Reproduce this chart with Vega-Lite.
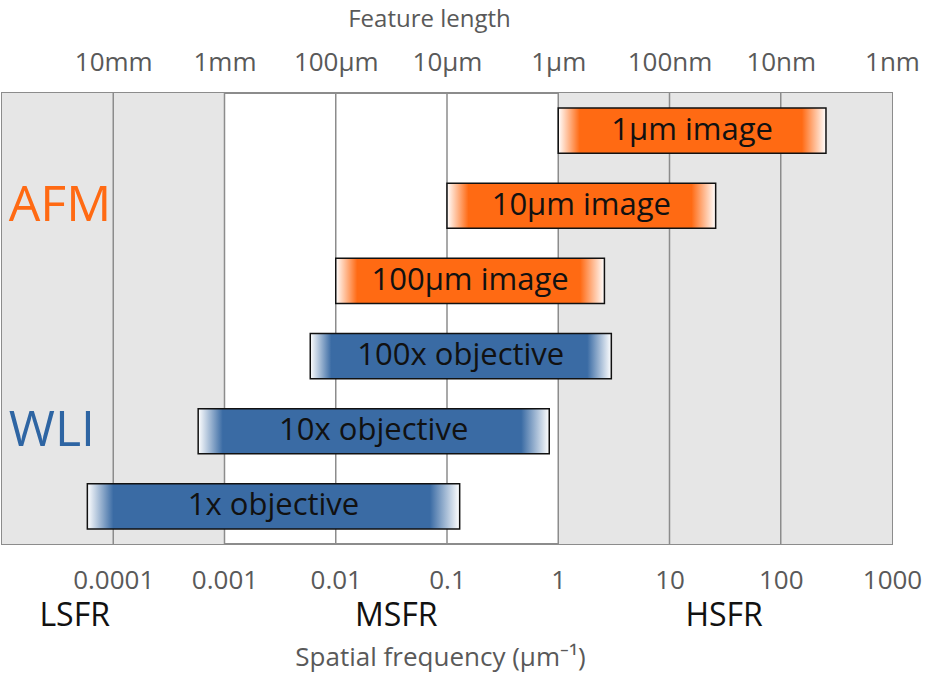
{
  "$schema": "https://vega.github.io/schema/vega-lite/v6.json",
  "width": 890,
  "height": 451,
  "autosize": "none",
  "padding": {"left": 2, "top": 93, "right": 34, "bottom": 131},
  "background": "white",
  "config": {
    "font": "Open Sans",
    "view": {"stroke": "#8c8c8c", "strokeWidth": 2}
  },
  "datasets": {
    "bg": [{"lo": 0.00001, "hi": 0.001}, {"lo": 1, "hi": 1000}],
    "grid": [{"f": 0.0001}, {"f": 0.001}, {"f": 0.01}, {"f": 0.1}, {"f": 1}, {"f": 10}, {"f": 100}],
    "bars": [
      {"label": "1µm image", "group": "AFM", "lo": 1, "hi": 255},
      {"label": "10µm image", "group": "AFM", "lo": 0.1, "hi": 26},
      {"label": "100µm image", "group": "AFM", "lo": 0.01, "hi": 2.6},
      {"label": "100x objective", "group": "WLI", "lo": 0.0059, "hi": 3.0},
      {"label": "10x objective", "group": "WLI", "lo": 0.00058, "hi": 0.83},
      {"label": "1x objective", "group": "WLI", "lo": 0.0000585, "hi": 0.13}
    ],
    "groups": [
      {"name": "AFM", "row": "10µm image", "pos": 0.0000115},
      {"name": "WLI", "row": "10x objective", "pos": 0.0000115}
    ],
    "ranges": [
      {"name": "LSFR", "pos": 0.000045},
      {"name": "MSFR", "pos": 0.035},
      {"name": "HSFR", "pos": 31}
    ]
  },
  "resolve": {"axis": {"x": "independent"}},
  "layer": [
    {
      "data": {"name": "bg"},
      "mark": {"type": "rect", "fill": "#e6e6e6"},
      "encoding": {
        "x": {"field": "lo", "type": "quantitative", "scale": {"type": "log", "domain": [0.00001, 1000], "nice": false},
          "axis": {
            "orient": "bottom",
            "values": [0.0001, 0.001, 0.01, 0.1, 1, 10, 100, 1000],
            "format": "~g",
            "grid": false, "ticks": false, "domain": false,
            "labelFontSize": 26, "labelColor": "#595959", "labelPadding": 23,
            "labelFlush": false, "labelOverlap": false, "labelBound": false,
            "title": "Spatial frequency (µm⁻¹)", "titleFontSize": 26, "titleFontWeight": "normal",
            "titleColor": "#595959", "titlePadding": 51, "titleX": 438
          }},
        "x2": {"field": "hi"}
      }
    },
    {
      "data": {"name": "grid"},
      "mark": {"type": "rule", "stroke": "#8c8c8c", "strokeWidth": 1.5},
      "encoding": {
        "x": {
          "field": "f", "type": "quantitative",
          "axis": {
            "orient": "top",
            "values": [0.0001, 0.001, 0.01, 0.1, 1, 10, 100, 1000],
            "labelExpr": "datum.value < 0.0005 ? '10mm' : datum.value < 0.005 ? '1mm' : datum.value < 0.05 ? '100µm' : datum.value < 0.5 ? '10µm' : datum.value < 5 ? '1µm' : datum.value < 50 ? '100nm' : datum.value < 500 ? '10nm' : '1nm'",
            "grid": false, "ticks": false, "domain": false,
            "labelFontSize": 26, "labelColor": "#595959", "labelPadding": 18,
            "labelFlush": false, "labelOverlap": false, "labelBound": false,
            "title": "Feature length", "titleFontSize": 24, "titleFontWeight": "normal",
            "titleColor": "#595959", "titlePadding": 18, "titleX": 427
          }
        }
      }
    },
    {
      "data": {"name": "bars"},
      "transform": [{"calculate": "sqrt(datum.lo * datum.hi)", "as": "mid"}],
      "layer": [
        {
          "transform": [{"filter": "datum.group == 'AFM'"}],
          "mark": {
            "type": "bar", "stroke": "#111111", "strokeWidth": 1.5,
            "color": {"gradient": "linear", "x1": 0, "x2": 1, "y1": 0, "y2": 0,
              "stops": [
                {"offset": 0, "color": "#ffffff"},
                {"offset": 0.08, "color": "#ff6a13"},
                {"offset": 0.91, "color": "#ff6a13"},
                {"offset": 1, "color": "#ffffff"}
              ]}
          },
          "encoding": {
            "x": {"field": "lo", "type": "quantitative", "axis": null},
            "x2": {"field": "hi"},
            "y": {"field": "label", "type": "nominal", "sort": null, "axis": null,
              "scale": {"domain": ["1µm image", "10µm image", "100µm image", "100x objective", "10x objective", "1x objective"], "paddingInner": 0.4, "paddingOuter": 0.2}}
          }
        },
        {
          "transform": [{"filter": "datum.group == 'WLI'"}],
          "mark": {
            "type": "bar", "stroke": "#111111", "strokeWidth": 1.5,
            "color": {"gradient": "linear", "x1": 0, "x2": 1, "y1": 0, "y2": 0,
              "stops": [
                {"offset": 0, "color": "#ffffff"},
                {"offset": 0.07, "color": "#3a6ba4"},
                {"offset": 0.92, "color": "#3a6ba4"},
                {"offset": 1, "color": "#ffffff"}
              ]}
          },
          "encoding": {
            "x": {"field": "lo", "type": "quantitative", "axis": null},
            "x2": {"field": "hi"},
            "y": {"field": "label", "type": "nominal", "sort": null, "axis": null}
          }
        },
        {
          "mark": {"type": "text", "fontSize": 31, "color": "#111111", "align": "center", "baseline": "middle"},
          "encoding": {
            "x": {"field": "mid", "type": "quantitative", "axis": null},
            "y": {"field": "label", "type": "nominal", "sort": null, "axis": null},
            "text": {"field": "label"}
          }
        }
      ]
    },
    {
      "data": {"name": "groups"},
      "mark": {"type": "text", "fontSize": 50, "align": "left", "baseline": "middle"},
      "encoding": {
        "x": {"field": "pos", "type": "quantitative", "axis": null},
        "y": {"field": "row", "type": "nominal", "axis": null},
        "text": {"field": "name"},
        "color": {"field": "name", "type": "nominal", "legend": null,
          "scale": {"domain": ["AFM", "WLI"], "range": ["#ff6a13", "#2e65a3"]}}
      }
    },
    {
      "data": {"name": "ranges"},
      "mark": {"type": "text", "fontSize": 32, "align": "center", "baseline": "middle", "color": "#111111", "dy": 110},
      "encoding": {
        "x": {"field": "pos", "type": "quantitative", "axis": null},
        "y": {"datum": "1x objective", "type": "nominal", "axis": null},
        "text": {"field": "name"}
      }
    }
  ]
}
